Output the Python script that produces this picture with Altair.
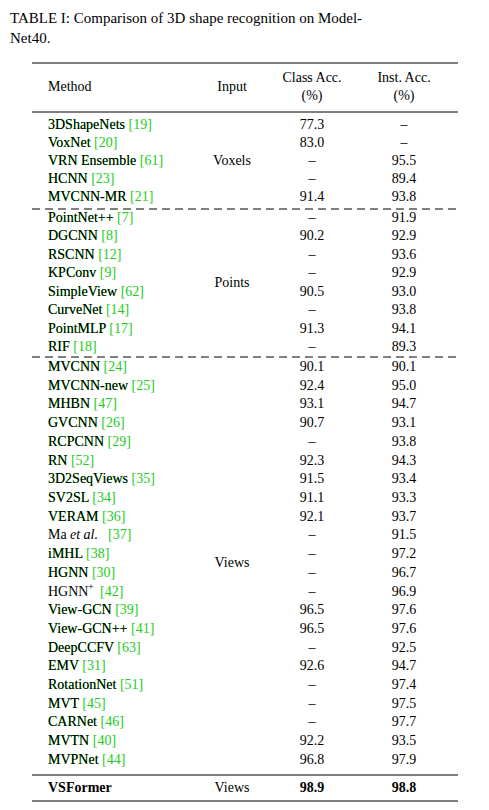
import altair as alt
import pandas as pd

voxels = [("3DShapeNets", "19", "77.3", "–"), ("VoxNet", "20", "83.0", "–"),
          ("VRN Ensemble", "61", "–", "95.5"), ("HCNN", "23", "–", "89.4"),
          ("MVCNN-MR", "21", "91.4", "93.8")]
points = [("PointNet++", "7", "–", "91.9"), ("DGCNN", "8", "90.2", "92.9"),
          ("RSCNN", "12", "–", "93.6"), ("KPConv", "9", "–", "92.9"),
          ("SimpleView", "62", "90.5", "93.0"), ("CurveNet", "14", "–", "93.8"),
          ("PointMLP", "17", "91.3", "94.1"), ("RIF", "18", "–", "89.3")]
views = [("MVCNN", "24", "90.1", "90.1"), ("MVCNN-new", "25", "92.4", "95.0"),
         ("MHBN", "47", "93.1", "94.7"), ("GVCNN", "26", "90.7", "93.1"),
         ("RCPCNN", "29", "–", "93.8"), ("RN", "52", "92.3", "94.3"),
         ("3D2SeqViews", "35", "91.5", "93.4"), ("SV2SL", "34", "91.1", "93.3"),
         ("VERAM", "36", "92.1", "93.7"), ("Ma et al.", "37", "–", "91.5"),
         ("iMHL", "38", "–", "97.2"), ("HGNN", "30", "–", "96.7"),
         ("HGNN+", "42", "–", "96.9"), ("View-GCN", "39", "96.5", "97.6"),
         ("View-GCN++", "41", "96.5", "97.6"), ("DeepCCFV", "63", "–", "92.5"),
         ("EMV", "31", "92.6", "94.7"), ("RotationNet", "51", "–", "97.4"),
         ("MVT", "45", "–", "97.5"), ("CARNet", "46", "–", "97.7"),
         ("MVTN", "40", "92.2", "93.5"), ("MVPNet", "44", "96.8", "97.9")]
final = ("VSFormer", "Views", "98.9", "98.8")

FS = 14
GREEN = "#22cc22"

rows = []  # x, y, text, style


def add(x, y, t, style="n", align="left"):
    rows.append(dict(x=x, y=y, t=t, s=style + "_" + align))


def group(data, y0, step, label, ly):
    for i, (name, ref, c, a) in enumerate(data):
        y = y0 + i * step
        cite = "[" + ref + "]"
        if name == "Ma et al.":
            add(48, y, "Ma")
            add(70, y, "et al.", "i")
            add(108, y, cite, "g")
        elif name == "HGNN+":
            add(48, y, "HGNN")
            add(88, y - 5, "+", "sup")
            add(100, y, cite, "g")
        else:
            # green full string underneath, black name drawn on top of it
            add(48, y, name + " " + cite, "g")
            add(48, y, name, "k")
        add(312, y, c, "n", "center")
        add(404, y, a, "n", "center")
    add(232, ly, label, "n", "center")


group(voxels, 125, 18.0, "Voxels", 161)
group(points, 218, 18.43, "Points", 283)
group(views, 367, 18.71, "Views", 563)
add(48, 788, final[0], "b")
add(232, 788, final[1], "n", "center")
add(312, 788, final[2], "b", "center")
add(404, 788, final[3], "b", "center")
add(48, 87, "Method")
add(232, 87, "Input", "n", "center")
add(312, 78, "Class Acc.", "n", "center")
add(312, 96, "(%)", "n", "center")
add(404, 78, "Inst. Acc.", "n", "center")
add(404, 96, "(%)", "n", "center")
add(10, 18, "TABLE I: Comparison of 3D shape recognition on Model-", "t")
add(10, 38, "Net40.", "t")
df = pd.DataFrame(rows)

rules = pd.DataFrame(dict(x=[32] * 6, x2=[458] * 6,
                          y=[63, 112, 209, 357, 775, 801],
                          d=["s", "s", "d", "d", "s", "s"]))

X = alt.X("x:Q", scale=alt.Scale(domain=[8, 481]), axis=None)
Y = alt.Y("y:Q", scale=alt.Scale(domain=[8, 802], reverse=True), axis=None)

styles = {
    "g": dict(color=GREEN),
    "k": dict(color="black"),
    "n": dict(color="black"),
    "b": dict(color="black", fontWeight="bold"),
    "i": dict(color="black", fontStyle="italic"),
    "sup": dict(color="black", fontSize=10),
    "t": dict(color="black", fontSize=15),
}
layers = []
for st in styles:
    for al in ["left", "center"]:
        key = st + "_" + al
        sub = df[df["s"] == key]
        if sub.empty:
            continue
        kw = dict(font="Liberation Serif", fontSize=FS, baseline="middle", align=al)
        kw.update(styles[st])
        layers.append(alt.Chart(sub).mark_text(**kw).encode(x=X, y=Y, text="t:N"))

for d, dash in [("s", [1, 0]), ("d", [8, 5])]:
    layers.append(alt.Chart(rules[rules["d"] == d]).mark_rule(
        color="black", strokeWidth=1, strokeDash=dash).encode(
        x=X, x2="x2:Q", y=Y))

chart = alt.layer(*layers).properties(
    width=473, height=794, autosize=alt.AutoSizeParams(type="none"), padding=0
).configure_view(stroke=None)
chart.save("out.html", embed_options={"renderer": "svg", "actions": False})
